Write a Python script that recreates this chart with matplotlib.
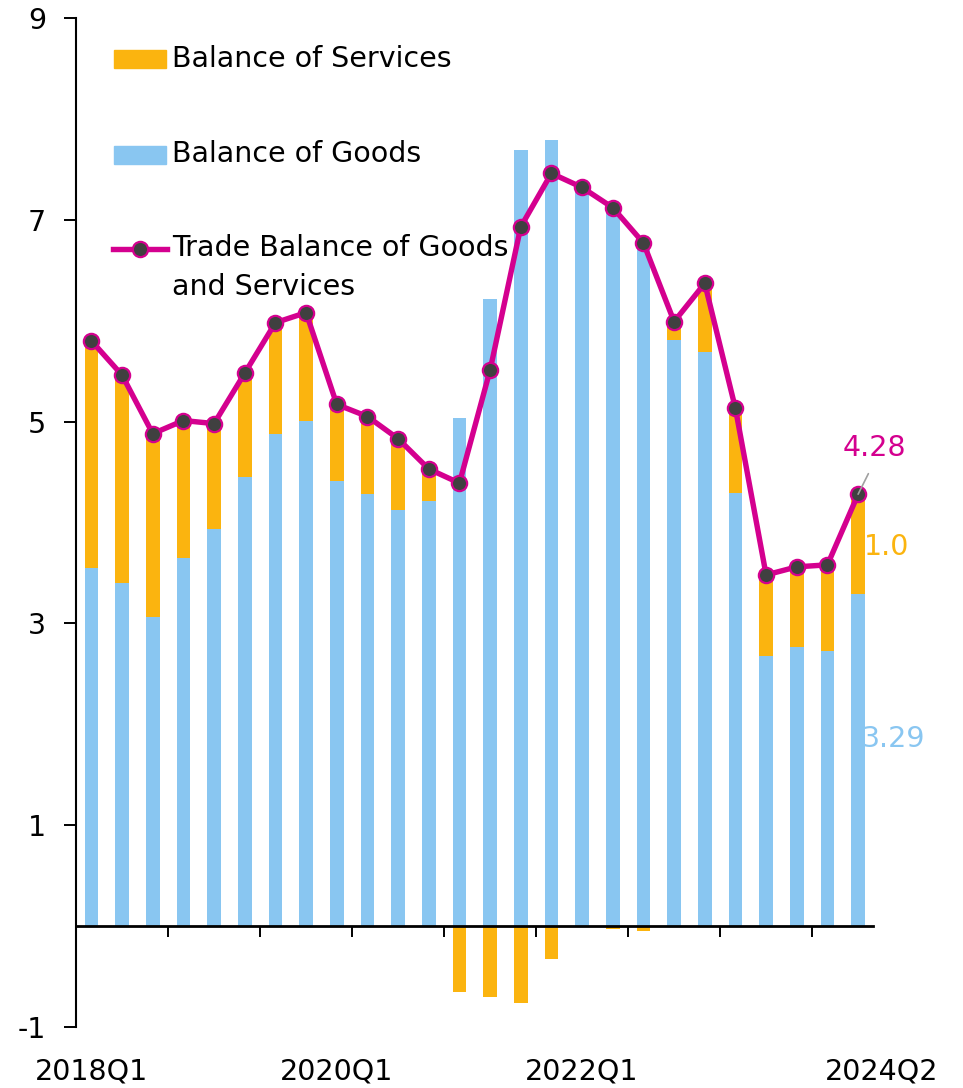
import matplotlib
matplotlib.use("Agg")
import matplotlib.pyplot as plt
import numpy as np
from matplotlib.patches import Rectangle
from matplotlib.lines import Line2D

plt.rcParams['font.family'] = ['DejaVu Sans']

quarters = [f"{y}Q{q}" for y in range(2018, 2025) for q in range(1, 5)][:26]
goods = [3.55, 3.40, 3.06, 3.65, 3.94, 4.45, 4.88, 5.01,
         4.41, 4.28, 4.12, 4.21, 5.04, 6.21, 7.69, 7.79,
         7.30, 7.15, 6.82, 5.81, 5.69, 4.29, 2.68, 2.77,
         2.73, 3.29]
services = [2.25, 2.06, 1.82, 1.36, 1.04, 1.03, 1.10, 1.07,
            0.76, 0.77, 0.71, 0.32, -0.65, -0.70, -0.76, -0.33,
            0.02, -0.03, -0.05, 0.18, 0.68, 0.84, 0.80, 0.79,
            0.85, 0.99]
total = [5.80, 5.46, 4.88, 5.01, 4.98, 5.48, 5.98, 6.08,
         5.17, 5.05, 4.83, 4.53, 4.39, 5.51, 6.93, 7.46,
         7.32, 7.12, 6.77, 5.99, 6.37, 5.13, 3.48, 3.56,
         3.58, 4.28]
xlabels = {0: "2018Q1", 8: "2020Q1", 16: "2022Q1", 25: "2024Q2"}
yticks = [-1, 1, 3, 5, 7, 9]

C_GOODS = "#89C6F1"
C_SERV = "#FBB40F"
C_LINE = "#D4008F"
C_MARK = "#404040"
FS = 20.5

fig = plt.figure(figsize=(9.63, 10.88), dpi=100)
ax = fig.add_axes([0.079, 0.0561, 0.828, 0.9274])

x = np.arange(len(quarters))
g = np.array(goods)
s = np.array(services)
bottom_s = np.where(s >= 0, np.maximum(g, 0), 0)
ax.bar(x, g, width=0.45, color=C_GOODS, zorder=2)
ax.bar(x, s, width=0.45, bottom=bottom_s, color=C_SERV, zorder=2)
ax.plot(x, total, color=C_LINE, lw=3.9, marker='o', ms=11,
        mfc=C_MARK, mec=C_LINE, mew=1.6, zorder=4)

ax.set_xlim(-0.5, len(quarters) - 0.5)
ax.set_ylim(-1, 9)
ax.set_yticks(yticks)
ax.set_yticklabels([str(v) for v in yticks], fontsize=FS)
ax.tick_params(axis='y', length=8.5, width=1.4, pad=13, color='black')

for sp in ['top', 'right']:
    ax.spines[sp].set_visible(False)
ax.spines['left'].set_linewidth(1.5)
ax.spines['bottom'].set_position(('data', 0))
ax.spines['bottom'].set_linewidth(2)
ax.set_xticks(np.arange(2.5, len(quarters) - 1, 3))
ax.set_xticklabels([])
ax.tick_params(axis='x', direction='out', length=8, width=1.4)

for i, lab in xlabels.items():
    off = 24 if i == len(quarters) - 1 else 0
    ax.annotate(lab, xy=(i, 0), xycoords=ax.get_xaxis_transform(),
                xytext=(off, -45), textcoords='offset pixels',
                ha='center', va='center', fontsize=FS)

# Legend (manual)
ax.add_patch(Rectangle((0.0476, 0.9504), 0.0652, 0.0179, transform=ax.transAxes,
                       color=C_SERV, clip_on=False))
ax.text(0.1203, 0.9594, "Balance of Services", transform=ax.transAxes,
        fontsize=FS, va='center', ha='left')
ax.add_patch(Rectangle((0.0476, 0.8553), 0.0652, 0.0179, transform=ax.transAxes,
                       color=C_GOODS, clip_on=False))
ax.text(0.1203, 0.8652, "Balance of Goods", transform=ax.transAxes,
        fontsize=FS, va='center', ha='left')
ax.add_line(Line2D([0.046, 0.114], [0.7711, 0.7711], transform=ax.transAxes,
                   color=C_LINE, lw=3.9, clip_on=False))
ax.add_line(Line2D([0.080], [0.7711], transform=ax.transAxes, marker='o', ms=11,
                   mfc=C_MARK, mec=C_LINE, mew=1.6, clip_on=False))
ax.text(0.1203, 0.7721, "Trade Balance of Goods", transform=ax.transAxes,
        fontsize=FS, va='center', ha='left')
ax.text(0.1203, 0.7334, "and Services", transform=ax.transAxes,
        fontsize=FS, va='center', ha='left')

# Annotations on last point
last = len(quarters) - 1
ax.annotate(f"{total[last]:.2f}", xy=(last, total[last]), xytext=(16, 32),
            textcoords='offset pixels', ha='center', va='bottom',
            fontsize=FS, color=C_LINE,
            arrowprops=dict(arrowstyle='-', color='#A0A0A0', lw=1.2,
                            relpos=(0.5, 0), shrinkA=7, shrinkB=0), zorder=5)
ax.annotate(f"{services[last]:.1f}", xy=(last, goods[last] + services[last] / 2),
            xytext=(6, -3), textcoords='offset pixels', ha='left', va='center',
            fontsize=FS, color=C_SERV)
ax.annotate(f"{goods[last]:.2f}", xy=(last, goods[last] * 0.57),
            xytext=(4, -2), textcoords='offset pixels', ha='left', va='center',
            fontsize=FS, color=C_GOODS)

fig.savefig("out.png", dpi=100)
